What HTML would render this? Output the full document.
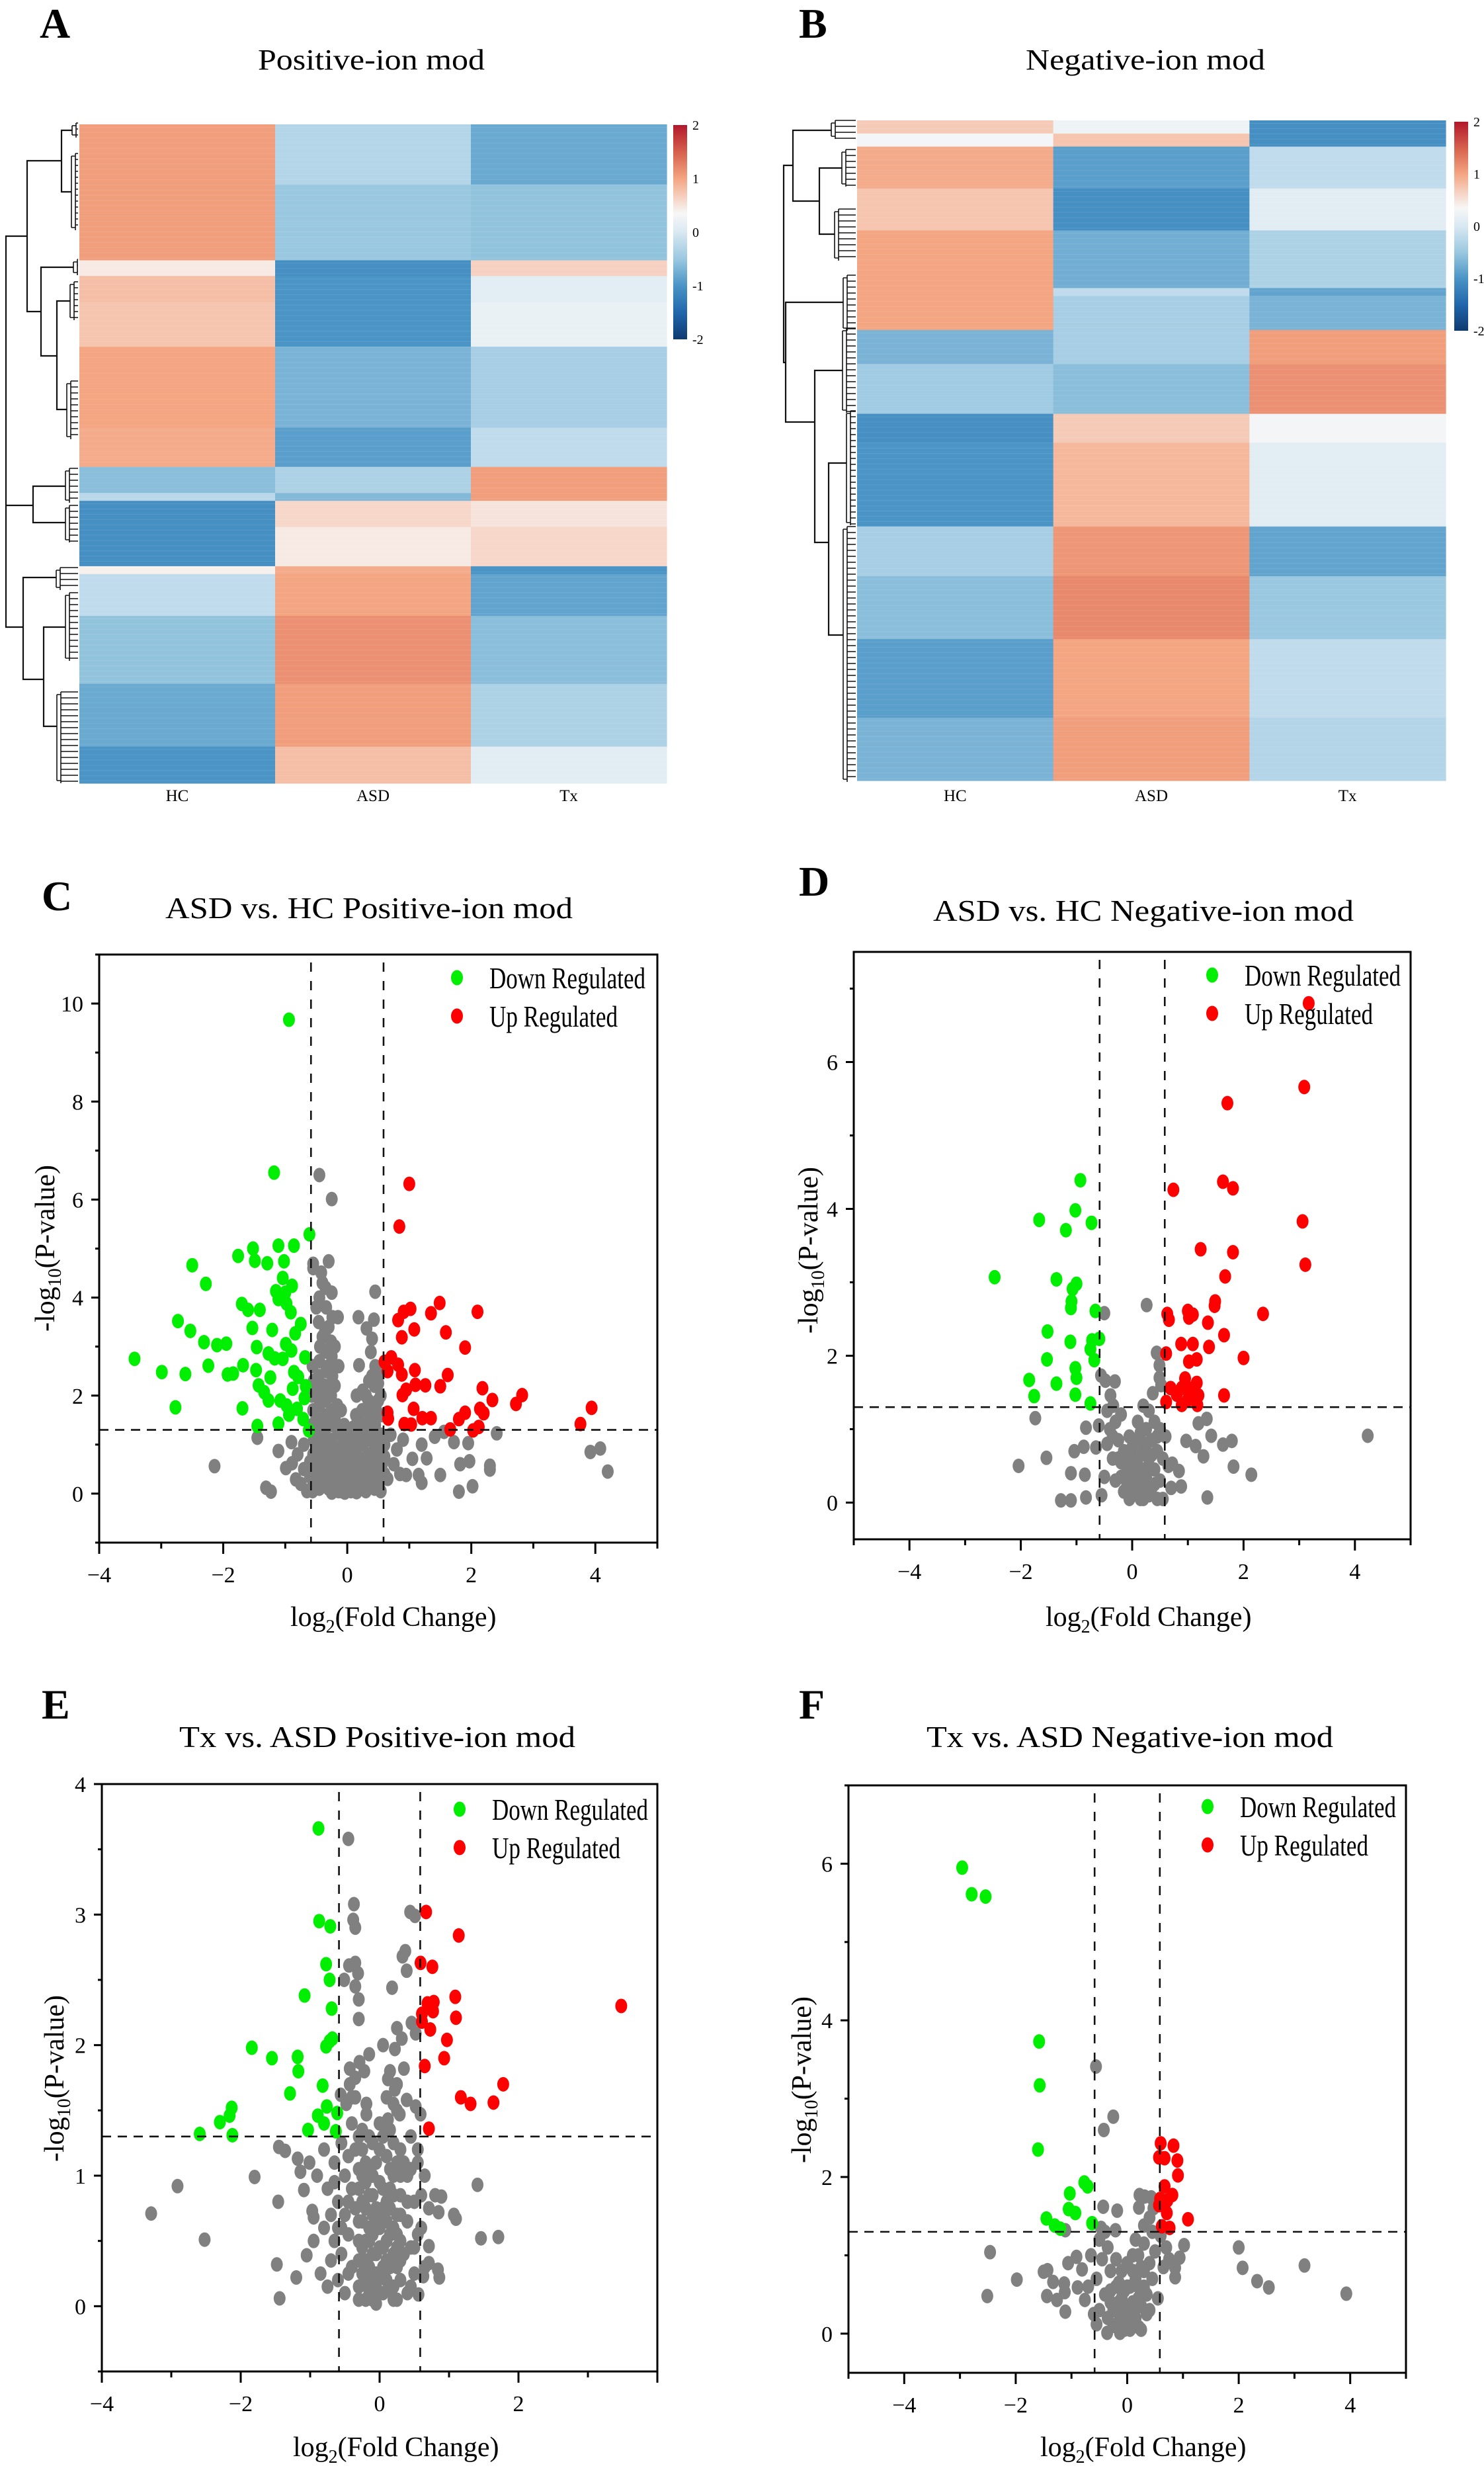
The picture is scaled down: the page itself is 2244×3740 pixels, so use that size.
<!DOCTYPE html>
<html><head><meta charset="utf-8"><title>Metabolomics heatmaps and volcano plots</title>
<style>
html,body{margin:0;padding:0;background:#fff;}
svg{display:block;font-family:"Liberation Serif",serif;}
svg text{font-family:"Liberation Serif",serif;}
</style></head>
<body>
<svg id="fig" xmlns="http://www.w3.org/2000/svg" width="2244" height="3740" viewBox="0 0 2244 3740">
<rect x="0" y="0" width="2244" height="3740" fill="#fff"/>
</svg>
<script>
// ---------------- Heatmap data ----------------
const heatColumns = ['HC', 'ASD', 'Tx'];
const colorbarTicks = [2, 1, 0, -1, -2];
const aRows = [23, 29, 6, 10, 17, 31, 15, 10, 3, 10, 15, 3, 16, 26, 24, 14];
const aHC  = [1.05, 1.05, 0.45, 0.8, 0.75, 1.0, 0.95, -0.6, -0.25, -1.05, -1.05, 0.4, -0.2, -0.55, -0.8, -1.0];
const aASD = [-0.3, -0.5, -1.05, -1.0, -1.0, -0.7, -0.9, -0.35, -0.65, 0.6, 0.45, 0.95, 1.0, 1.15, 1.05, 0.8];
const aTx  = [-0.8, -0.55, 0.65, 0.1, 0.2, -0.4, -0.2, 1.05, 1.05, 0.5, 0.6, -1.0, -0.85, -0.6, -0.35, 0.1];
const bRows = [5, 5, 16, 16, 22, 3, 13, 13, 19, 11, 32, 19, 24, 30, 24];
const bHC  = [0.7, 0.3, 0.95, 0.75, 1.0, 1.0, 1.0, -0.7, -0.45, -1.05, -1.0, -0.4, -0.6, -0.9, -0.7];
const bASD = [0.25, 0.75, -0.9, -1.05, -0.75, -0.2, -0.4, -0.4, -0.6, 0.7, 0.85, 1.1, 1.2, 1.0, 1.05];
const bTx  = [-1.05, -1.05, -0.2, 0.1, -0.35, -0.85, -0.7, 1.05, 1.15, 0.3, 0.1, -0.85, -0.5, -0.2, -0.3];

// ---------------- Volcano data ----------------
const cDown = [[-0.94,9.67],[-1.18,6.55],[-0.61,5.29],[-1.76,4.85],[-1.52,5.0],[-1.11,5.06],[-0.86,5.06],[-1.49,4.75],[-1.29,4.7],[-1.02,4.74],[-2.5,4.66],[-2.28,4.28],[-1.04,4.4],[-1.15,4.13],[-1.0,4.1],[-0.89,4.24],[-1.11,3.97],[-0.98,3.88],[-1.7,3.87],[-1.6,3.75],[-1.41,3.75],[-0.91,3.7],[-2.73,3.52],[-2.53,3.32],[-1.53,3.38],[-1.21,3.34],[-0.75,3.46],[-0.84,3.27],[-2.31,3.09],[-2.1,3.03],[-1.95,3.06],[-1.46,2.99],[-0.99,3.05],[-0.9,2.92],[-3.43,2.75],[-1.27,2.86],[-1.17,2.76],[-1.04,2.75],[-0.68,2.78],[-2.99,2.48],[-2.61,2.44],[-2.24,2.61],[-1.93,2.43],[-1.84,2.45],[-1.68,2.62],[-1.47,2.52],[-1.24,2.37],[-0.86,2.48],[-0.79,2.38],[-1.43,2.21],[-1.34,2.07],[-0.88,2.14],[-0.67,2.19],[-1.27,1.9],[-1.08,1.9],[-0.98,1.8],[-0.69,1.95],[-2.77,1.76],[-1.69,1.74],[-0.81,1.73],[-0.94,1.61],[-0.71,1.52],[-1.45,1.38],[-1.11,1.43],[-0.62,1.29]];
const cUp = [[1.0,6.32],[0.84,5.45],[1.49,3.89],[2.1,3.71],[1.35,3.68],[1.02,3.77],[0.91,3.71],[0.82,3.54],[1.08,3.35],[0.88,3.19],[1.59,3.29],[1.9,2.98],[0.71,2.78],[0.6,2.69],[0.82,2.63],[1.09,2.52],[0.65,2.5],[0.88,2.43],[1.62,2.42],[1.1,2.22],[0.95,2.12],[1.26,2.21],[0.89,2.01],[1.5,2.19],[2.18,2.15],[2.82,2.01],[2.34,1.91],[2.72,1.83],[3.94,1.75],[0.65,1.65],[1.07,1.73],[0.66,1.53],[1.9,1.65],[2.14,1.73],[2.2,1.64],[1.21,1.54],[1.35,1.54],[1.8,1.52],[0.92,1.42],[3.76,1.42],[2.12,1.36],[1.03,1.41],[1.66,1.31],[2.03,1.29]];
const cNs = [[-0.45,6.5],[-0.25,6.01],[-0.55,4.69],[-0.3,4.74],[-0.42,4.51],[0.45,4.12],[0.18,3.6],[0.43,3.55],[0.31,3.37],[0.4,3.16],[0.38,2.89],[0.19,2.62],[-1.45,1.14],[-2.14,0.56],[-1.31,0.12],[-1.23,0.04],[-1.11,0.87],[-0.99,0.52],[-0.83,0.29],[-0.89,0.62],[2.41,1.23],[1.95,1.03],[2.3,0.57],[2.3,0.49],[1.97,0.66],[1.82,0.6],[1.8,0.04],[2.02,0.15],[3.92,0.85],[4.08,0.92],[4.2,0.45],[1.2,1.0],[1.2,0.22],[0.95,0.38],[1.05,0.71],[1.28,0.72],[1.41,1.16],[1.56,1.26],[1.5,0.38],[1.72,1.05],[1.15,0.38],
[-0.55,4.6],[-0.56,2.6],[-0.54,2.3],[-0.57,2.0],[-0.55,1.7],[-0.56,1.4],[-0.54,1.1],[-0.55,0.8],[-0.57,0.5],[-0.55,0.2],[-0.56,0.05],
[-0.45,4.0],[-0.46,3.5],[-0.44,3.0],[-0.45,2.7],[-0.46,2.4],[-0.44,2.1],[-0.45,1.8],[-0.46,1.5],[-0.44,1.2],[-0.45,0.9],[-0.46,0.6],[-0.44,0.3],[-0.45,0.1],
[-0.35,4.2],[-0.34,3.8],[-0.36,3.3],[-0.35,2.9],[-0.34,2.5],[-0.36,2.2],[-0.35,1.9],[-0.34,1.6],[-0.36,1.3],[-0.35,1.0],[-0.34,0.7],[-0.36,0.4],[-0.35,0.15],
[-0.25,4.1],[-0.24,3.6],[-0.26,3.1],[-0.25,2.8],[-0.24,2.4],[-0.26,2.0],[-0.25,1.7],[-0.24,1.4],[-0.26,1.1],[-0.25,0.8],[-0.24,0.5],[-0.26,0.2],[-0.25,0.02],
[-0.15,3.6],[-0.14,2.6],[-0.16,1.8],[-0.15,1.3],[-0.14,0.9],[-0.16,0.6],[-0.15,0.3],[-0.14,0.05],
[-0.05,1.4],[-0.06,1.0],[-0.04,0.7],[-0.05,0.4],[-0.06,0.15],[-0.04,0.02],
[0.05,1.2],[0.06,0.9],[0.04,0.6],[0.05,0.3],[0.06,0.05],
[0.15,2.0],[0.14,1.6],[0.16,1.2],[0.15,0.8],[0.14,0.5],[0.16,0.2],[0.15,0.03],
[0.25,2.1],[0.24,1.7],[0.26,1.3],[0.25,1.0],[0.24,0.7],[0.26,0.4],[0.25,0.1],
[0.35,2.3],[0.34,1.9],[0.36,1.5],[0.35,1.1],[0.34,0.8],[0.36,0.5],[0.35,0.2],
[0.45,2.6],[0.44,2.2],[0.46,1.8],[0.45,1.4],[0.44,1.0],[0.46,0.7],[0.45,0.4],[0.44,0.1],
[0.55,2.5],[0.54,2.0],[0.56,1.6],[0.55,1.2],[0.54,0.9],[0.56,0.6],[0.55,0.3],[0.54,0.05],
[0.7,1.2],[0.8,0.9],[0.9,1.1],[0.75,0.6],[0.65,0.3],[0.85,0.4],[-0.7,1.0],[-0.8,0.8],[-0.7,0.5],[-0.75,0.2],[-0.9,1.05],[-0.65,0.05],
[-0.5,3.8],[-0.4,4.3],[-0.3,3.4],[-0.2,3.0],[-0.4,3.2],[-0.3,2.6],[-0.5,2.2],[-0.4,1.95],[-0.3,2.05],[-0.2,2.2],[-0.5,1.55],[-0.4,1.35],[-0.3,1.45],[-0.2,1.55],[-0.1,1.7],
[-0.5,0.95],[-0.4,0.75],[-0.3,0.85],[-0.2,0.95],[-0.1,1.2],[0.0,1.05],[0.1,1.35],[0.2,1.45],[0.3,1.7],[0.4,1.6],[0.5,1.9],[0.3,2.0],[0.4,2.4],[0.5,2.25],
[-0.5,0.45],[-0.4,0.45],[-0.3,0.55],[-0.2,0.65],[-0.1,0.85],[0.0,0.8],[0.1,0.95],[0.2,1.05],[0.3,1.25],[0.4,1.2],[0.5,1.05],
[-0.5,0.15],[-0.4,0.2],[-0.3,0.1],[-0.2,0.35],[-0.1,0.45],[0.0,0.5],[0.1,0.65],[0.2,0.55],[0.3,0.65],[0.4,0.8],[0.5,0.5],
[-0.1,0.05],[0.0,0.2],[0.1,0.1],[0.2,0.3],[0.3,0.05],[0.4,0.3],[0.5,0.15],[0.6,0.4],[0.6,0.75],[0.6,1.0],[-0.6,0.65],[-0.6,0.35]];

const dDown = [[-0.93,4.39],[-1.02,3.98],[-1.67,3.85],[-0.73,3.81],[-1.19,3.71],[-2.47,3.07],[-1.36,3.04],[-1.0,2.98],[-1.07,2.91],[-1.09,2.74],[-1.1,2.65],[-0.66,2.61],[-1.52,2.33],[-0.72,2.21],[-0.59,2.23],[-1.11,2.19],[-0.75,2.09],[-1.53,1.95],[-0.68,1.94],[-1.02,1.83],[-1.0,1.7],[-1.85,1.67],[-1.36,1.62],[-1.76,1.45],[-1.02,1.47],[-0.75,1.35]];
const dUp = [[3.17,6.8],[3.09,5.66],[1.71,5.44],[1.63,4.37],[0.74,4.26],[1.81,4.28],[3.06,3.83],[1.23,3.45],[1.81,3.41],[3.11,3.24],[1.67,3.08],[1.49,2.74],[1.48,2.68],[2.35,2.57],[0.63,2.57],[0.66,2.49],[1.0,2.61],[1.09,2.56],[1.02,2.52],[1.36,2.45],[1.65,2.28],[0.88,2.16],[1.09,2.16],[1.38,2.12],[0.61,2.03],[2.0,1.97],[1.16,1.95],[1.02,1.92],[0.95,1.69],[1.16,1.63],[0.69,1.56],[0.89,1.56],[1.06,1.55],[0.8,1.47],[1.19,1.46],[1.65,1.46],[0.61,1.37],[0.89,1.33],[1.17,1.33],[1.0,1.4]];
const dNs = [[-0.5,2.58],[0.26,2.69],[4.23,0.91],[-1.74,1.15],[-1.54,0.61],[-2.04,0.5],[-1.28,0.03],[-1.1,0.03],[-0.83,0.07],[-0.85,0.38],[-1.1,0.4],[-1.04,0.7],[-0.87,0.76],[-0.83,1.02],[2.14,0.38],[1.82,0.49],[1.79,0.84],[1.63,0.79],[1.42,0.91],[1.28,0.63],[1.35,0.07],[1.14,0.77],[1.34,1.14],[1.19,1.08],[-0.56,1.73],[-0.48,1.66],[-0.31,1.65],[0.44,2.04],[0.49,1.87],[0.49,1.7],[0.52,1.6],[0.37,1.49],[0.2,1.32],[-0.39,1.46],[-0.34,1.32],[0.97,0.84],[0.88,0.22],[0.84,0.43],[0.72,0.53],
[-0.45,1.25],[-0.4,1.0],[-0.45,0.8],[-0.35,0.6],[-0.5,0.35],[-0.3,1.1],[-0.25,0.85],[-0.2,0.55],[-0.3,0.3],[-0.15,0.7],[-0.1,0.4],[-0.15,0.15],[-0.05,0.05],[0.0,0.3],[0.05,0.6],[0.1,0.85],[0.1,0.2],[0.15,0.45],[0.2,0.7],[0.2,0.05],[0.25,1.0],[0.25,0.35],[0.3,0.6],[0.35,0.2],[0.35,0.85],[0.4,1.1],[0.4,0.45],[0.45,0.7],[0.5,0.3],[0.5,1.0],[0.55,0.05],[0.55,0.6],[0.6,0.9],[0.65,0.5],[0.7,0.2],[-0.6,1.05],[-0.65,0.75],[-0.55,0.1],[0.0,0.1],[0.1,1.1],[-0.2,1.2],[0.3,1.25],[0.15,0.95],[-0.05,0.9],[-0.1,0.6],[0.05,0.35],[0.25,0.15],[0.45,0.05],
[-0.1,0.2],[0.0,0.5],[0.05,0.15],[0.15,0.3],[0.2,0.45],[0.1,0.6],[0.3,0.45],[0.35,0.65],[0.0,0.75],[-0.05,0.35],[0.2,0.25],[0.4,0.25],[-0.2,0.35],[-0.25,0.6],[-0.35,0.9],[0.15,0.05],[0.3,0.1],[-0.05,0.55],[0.25,0.8],[0.45,0.9]];

const eDown = [[-0.88,3.66],[-0.87,2.95],[-0.71,2.91],[-0.77,2.62],[-0.72,2.5],[-1.08,2.38],[-0.69,2.28],[-0.68,2.05],[-0.72,2.03],[-0.77,1.99],[-1.84,1.98],[-1.55,1.9],[-1.18,1.91],[-1.17,1.8],[-0.82,1.69],[-1.29,1.63],[-2.13,1.52],[-2.16,1.46],[-0.76,1.53],[-0.89,1.46],[-0.61,1.48],[-0.8,1.4],[-2.3,1.41],[-1.03,1.35],[-0.63,1.34],[-2.59,1.32],[-2.12,1.31]];
const eUp = [[0.67,3.02],[1.14,2.84],[0.59,2.63],[0.76,2.6],[3.48,2.3],[1.09,2.37],[0.69,2.32],[0.78,2.33],[0.61,2.24],[0.77,2.26],[1.1,2.21],[0.61,2.18],[0.73,2.12],[0.97,2.04],[0.93,1.9],[0.65,1.84],[1.78,1.7],[1.17,1.6],[1.31,1.55],[1.64,1.56],[0.71,1.36]];
const eNs = [[-0.45,3.58],[-0.37,3.08],[-0.38,2.96],[-0.35,2.9],[0.44,3.02],[0.51,2.99],[0.37,2.72],[0.33,2.68],[-0.44,2.61],[-0.35,2.63],[-0.31,2.55],[-0.51,2.5],[0.18,2.44],[0.39,2.57],[-3.29,0.71],[-2.91,0.92],[-2.52,0.51],[-1.8,0.99],[-1.46,0.8],[-1.48,0.32],[-1.44,0.06],[-1.2,0.22],[-1.05,0.39],[-1.45,1.22],[-1.36,1.19],[-1.18,1.13],[-1.01,1.1],[-1.14,1.03],[-1.09,0.89],[-0.97,0.73],[-0.95,0.68],[1.41,0.93],[1.46,0.52],[1.71,0.53],[1.07,0.7],[1.1,0.67],[0.8,0.85],[0.89,0.84],[0.85,0.72],[0.71,0.75],[0.71,0.46],[0.71,0.33],[0.84,0.28],[0.86,0.22],[0.63,0.23],[0.56,0.09],[-0.22,1.8],[-0.15,1.93],[-0.29,1.87],[-0.43,1.82],[-0.43,1.7],[0.25,2.13],[0.32,2.05],[0.22,1.97],[0.46,2.17],[0.52,2.09],[0.35,1.82],[0.12,1.74],[0.22,1.66],[0.39,1.58],[0.52,1.53],[0.59,1.47],[0.29,1.47],[0.12,1.43],[-0.19,1.55],[-0.19,1.47],[-0.56,1.62],[-0.48,1.55],
[-0.8,1.2],[-0.75,0.9],[-0.8,0.6],[-0.7,0.35],[-0.75,0.15],[-0.65,1.1],[-0.6,0.8],[-0.65,0.5],[-0.6,0.2],[-0.55,1.25],[-0.5,1.0],[-0.5,0.7],[-0.55,0.4],[-0.5,0.1],[-0.45,1.15],[-0.4,0.9],[-0.45,0.55],[-0.4,0.3],[-0.4,1.4],[-0.35,1.6],[-0.35,1.75],[-0.3,2.2],[-0.3,2.35],[-0.35,2.45],[-0.35,1.2],[-0.35,0.75],[-0.3,0.5],[-0.3,0.15],[-0.25,1.0],[-0.25,0.65],[-0.2,0.35],[-0.2,0.05],[-0.15,0.85],[-0.15,1.3],[-0.15,0.5],[-0.1,0.2],[-0.1,0.7],[-0.05,0.4],[-0.05,0.02],[0.0,0.6],[0.0,0.25],[0.05,0.9],[0.05,0.1],[0.1,1.15],[0.1,0.5],[0.1,1.4],[0.1,1.6],[0.15,0.3],[0.15,0.75],[0.2,1.0],[0.2,1.25],[0.2,0.05],[0.25,0.55],[0.25,1.5],[0.25,1.7],[0.3,0.2],[0.3,0.85],[0.3,1.2],[0.35,0.4],[0.4,1.0],[0.4,0.65],[0.45,0.15],[0.45,1.3],[0.5,0.8],[0.5,0.45],[0.55,1.1],[0.6,0.6],[0.65,0.3],[0.55,1.2],[0.65,1.0],[-0.9,1.0],[-0.95,0.5],[-0.85,0.25],[-0.1,1.0],[0.0,1.2],[-0.2,0.95],[-0.25,1.35],[0.35,1.1],[0.15,1.05],[-0.05,0.75],[0.05,0.45],[-0.3,0.9],[-0.6,0.6],[0.25,0.3],
[-0.3,0.05],[-0.2,0.2],[-0.1,0.05],[0.0,0.1],[0.1,0.2],[0.2,0.15],[0.3,0.35],[-0.25,0.25],[-0.15,0.12],[-0.05,0.25],[0.05,0.3],[0.15,0.12],[0.25,0.05],
[-0.3,0.35],[-0.2,0.5],[-0.1,0.4],[0.0,0.45],[0.1,0.35],[0.2,0.4],[0.3,0.5],[-0.25,0.45],[-0.15,0.3],[-0.05,0.15],[0.05,0.22],[0.15,0.55],[0.25,0.45],
[-0.3,0.65],[-0.2,0.75],[-0.1,0.55],[0.0,0.7],[0.1,0.65],[0.2,0.6],[0.3,0.7],[-0.25,0.8],[-0.15,0.6],[-0.05,0.6],[0.05,0.75],[0.15,0.9],[0.25,0.7],
[-0.3,1.05],[-0.2,1.1],[-0.1,0.85],[0.0,0.95],[0.1,0.8],[0.2,0.85],[0.3,1.0],[-0.25,1.2],[-0.15,1.05],[-0.05,1.1],[0.05,1.3],[0.15,1.35],[0.25,1.1],
[-0.45,0.25],[-0.55,0.6],[-0.45,0.8],[-0.65,0.95],[0.4,0.1],[0.45,0.45],[0.4,0.8],[0.45,1.05],[-0.7,0.7],[0.5,0.25],[0.55,0.55],[0.6,0.85],[-0.1,1.25],[0.0,1.4],[0.2,1.55],[-0.3,1.3],[-0.4,1.6],[0.15,1.8],[0.05,2.0]];

const fDown = [[-2.96,5.95],[-2.79,5.61],[-2.54,5.58],[-1.58,3.73],[-1.57,3.17],[-1.6,2.35],[-0.77,1.93],[-0.71,1.88],[-1.03,1.79],[-1.05,1.59],[-0.93,1.54],[-1.45,1.47],[-0.63,1.41],[-1.3,1.38],[-1.2,1.34]];
const fUp = [[0.6,2.43],[0.83,2.4],[0.57,2.25],[0.67,2.24],[0.9,2.21],[0.91,2.02],[0.67,1.88],[0.81,1.77],[0.72,1.7],[0.59,1.72],[0.57,1.64],[0.71,1.54],[1.09,1.46],[0.62,1.37],[0.76,1.35]];
const fNs = [[-0.56,3.41],[-0.25,2.77],[-0.42,2.6],[-0.43,1.62],[-0.18,1.57],[-0.47,1.35],[-0.21,1.32],[-1.11,1.32],[-2.46,1.04],[-1.98,0.69],[-2.51,0.48],[-1.5,0.79],[-1.43,0.81],[-1.33,0.66],[-1.44,0.48],[-1.26,0.43],[-1.13,0.64],[-1.12,0.53],[-1.11,0.28],[-1.06,0.9],[-0.91,0.98],[-0.81,0.82],[-0.89,0.59],[-0.76,0.43],[2.0,1.1],[2.07,0.84],[2.33,0.67],[2.54,0.59],[3.18,0.87],[3.93,0.51],[1.02,1.13],[0.94,0.97],[0.86,0.84],[0.86,0.72],[0.22,1.77],[0.31,1.75],[0.43,1.74],[0.21,1.61],[0.47,1.6],[0.4,1.48],[0.3,1.38],[-0.55,0.12],[-0.36,0.01],[-0.13,0.01],[0.21,0.08],
[-0.5,1.2],[-0.45,0.95],[-0.55,0.7],[-0.4,0.5],[-0.5,0.3],[-0.35,1.1],[-0.3,0.8],[-0.3,0.55],[-0.25,0.3],[-0.25,0.1],[-0.2,0.95],[-0.15,0.65],[-0.15,0.4],[-0.1,0.2],[-0.05,0.55],[-0.05,0.05],[0.0,0.35],[0.05,0.6],[0.05,0.15],[0.1,0.8],[0.1,0.4],[0.15,0.2],[0.2,1.0],[0.2,0.6],[0.25,0.35],[0.25,0.05],[0.3,0.8],[0.3,1.15],[0.35,0.5],[0.4,0.9],[0.45,0.7],[0.5,1.05],[0.55,0.45],[0.6,1.25],[0.65,0.85],[0.7,1.1],[0.75,0.95],[-0.65,1.0],[-0.7,0.6],[-0.6,0.25],[-0.35,0.2],[0.4,0.3],[-0.2,0.3],[0.15,1.2],[-0.4,1.3],[0.45,1.3],
[-0.1,0.45],[0.0,0.6],[0.1,0.25],[0.2,0.45],[-0.2,0.6],[-0.1,0.8],[0.0,0.9],[0.1,1.0],[0.3,0.6],[-0.3,0.4],[0.35,0.25],[0.15,0.7],[-0.15,0.15],[0.05,0.05],[0.25,0.85],[-0.05,0.3]];

const fcCutoff = [-0.585, 0.585];
const pCutoff = [1.3];
const legendLabels = ['Down Regulated', 'Up Regulated'];

// ---------------- rendering ----------------
const NS = 'http://www.w3.org/2000/svg';
const svg = document.getElementById('fig');
const FONT = '"Liberation Serif", serif';
function el(tag, attrs, parent) {
  const e = document.createElementNS(NS, tag);
  for (const k in attrs) e.setAttribute(k, attrs[k]);
  (parent || svg).appendChild(e);
  return e;
}
const stops = [[-2,[13,58,112]],[-1.5,[33,102,172]],[-1,[74,148,198]],[-0.5,[154,200,224]],[0,[217,232,242]],[0.35,[247,247,247]],[1,[244,165,130]],[1.5,[214,96,77]],[2,[178,24,43]]];
function colorOf(v) {
  v = Math.max(-2, Math.min(2, v));
  for (let i = 0; i < stops.length - 1; i++) {
    const a = stops[i], b = stops[i + 1];
    if (v >= a[0] && v <= b[0]) {
      const t = (v - a[0]) / (b[0] - a[0]);
      const c = a[1].map((x, j) => Math.round(x + (b[1][j] - x) * t));
      return 'rgb(' + c.join(',') + ')';
    }
  }
  return '#fff';
}
function txt(parent, x, y, s, size, opts) {
  const t = el('text', Object.assign({x: x, y: y, 'font-size': size, fill: '#000', 'font-family': FONT}, opts || {}), parent);
  t.textContent = s;
  return t;
}

function heatmap(cfg) {
  const g = el('g', {});
  
  
  const L = txt(g, cfg.letterX, 57, cfg.letter, 64, {'font-weight': 'bold'});
  
  
  const T = txt(g, cfg.titleX, 105, cfg.title, 44, {textLength: cfg.titleW, lengthAdjust: 'spacingAndGlyphs'});
  
  
  const total = cfg.rows.reduce((a, b) => a + b, 0);
  const rowH = (cfg.y1 - cfg.y0) / total;
  const colW = (cfg.x1 - cfg.x0) / heatColumns.length;
  const vals = [cfg.hc, cfg.asd, cfg.tx];
  let r0 = 0;
  cfg.rows.forEach((n, i) => {
    for (let c = 0; c < 3; c++) {
      const cell = el('rect', {x: cfg.x0 + c * colW, y: cfg.y0 + r0 * rowH, width: colW + 0.6, height: n * rowH + 0.6, fill: colorOf(vals[c][i])}, g);
      
      
    }
    r0 += n;
  });
  for (let k = 1; k < total; k += 2) {
    const s = el('rect', {x: cfg.x0, y: cfg.y0 + k * rowH, width: cfg.x1 - cfg.x0, height: 1, fill: '#fff', opacity: 0.1}, g);
    
    
  }
  heatColumns.forEach((c, i) => {
    const t = txt(g, cfg.x0 + (i + 0.5) * colW, 1211, c, 25, {'text-anchor': 'middle'});
    
    
  });
  const gid = 'cb' + cfg.letter;
  const defs = el('defs', {}, g);
  const lg = el('linearGradient', {id: gid, x1: 0, y1: 0, x2: 0, y2: 1}, defs);
  for (let i = stops.length - 1; i >= 0; i--) {
    el('stop', {offset: ((2 - stops[i][0]) / 4 * 100) + '%', 'stop-color': colorOf(stops[i][0])}, lg);
  }
  const cb = el('rect', {x: cfg.cbX, y: cfg.cbY0, width: 21, height: cfg.cbY1 - cfg.cbY0, fill: 'url(#' + gid + ')'}, g);
  
  
  colorbarTicks.forEach(v => {
    const y = cfg.cbY0 + (2 - v) / 4 * (cfg.cbY1 - cfg.cbY0);
    const t = txt(g, cfg.cbX + 29, y + 7, String(v), 20);
    
    
  });
  const dg = el('g', {stroke: '#111', 'stroke-width': 2.2, fill: 'none'}, g);
  
  
  cfg.tree.forEach(n => {
    const [x, y1, y2, xa, xb] = n;
    const p = el('path', {d: 'M' + xa + ' ' + y1 + 'H' + x + 'V' + y2 + 'H' + xb}, dg);
    
    
  });
  cfg.leaves.forEach(n => {
    const [x, y1, y2] = n;
    let d = 'M' + x + ' ' + y1 + 'V' + y2 + 'M' + x + ' ' + y1 + 'H' + (x + 6) + 'M' + x + ' ' + y2 + 'H' + (x + 6);
    d += 'M' + (x + 6) + ' ' + (y1 - 4) + 'V' + (y2 + 4);
    for (let y = y1 - 4; y <= y2 + 4.1; y += 9) d += 'M' + (x + 6) + ' ' + y + 'H' + (cfg.x0 - 2);
    const p = el('path', {d: d, 'stroke-width': 1.6}, dg);
    
    
  });
}

heatmap({name: 'heatmap-positive', letter: 'A', letterX: 60, title: 'Positive-ion mod', titleX: 390, titleW: 343,
  x0: 120, x1: 1008, y0: 188, y1: 1184, rows: aRows, hc: aHC, asd: aASD, tx: aTx, cbX: 1018, cbY0: 189, cbY1: 513,
  tree: [[9,357,948,41,35],[9,764,764,50,50],[41,243,471,93,62],[93,197,290,109,108],[62,404,538,111,86],[86,455,619,106,101],[50,735,790,99,99],[35,873,1027,85,66],[66,948,1098,99,86]],
  leaves: [[109,190,204],[108,236,344],[111,396,412],[106,430,480],[101,580,660],[99,712,756],[99,768,816],[85,862,888],[99,900,995],[86,1050,1180]]});
heatmap({name: 'heatmap-negative', letter: 'B', letterX: 1208, title: 'Negative-ion mod', titleX: 1551, titleW: 362,
  x0: 1296, x1: 2186, y0: 182, y1: 1180, rows: bRows, hc: bHC, asd: bASD, tx: bTx, cbX: 2199, cbY0: 184, cbY1: 500,
  tree: [[1185,250,548,1199,1188],[1199,197,304,1257,1239],[1239,254,354,1273,1262],[1188,457,638,1275,1232],[1232,560,820,1274,1253],[1253,700,960,1280,1275]],
  leaves: [[1257,186,206],[1273,230,278],[1262,320,390],[1275,420,496],[1274,500,620],[1280,625,790],[1275,800,1178]]});

function volcano(cfg) {
  const g = el('g', {});
  
  
  const sx = v => cfg.x0 + (v - cfg.xmin) / (cfg.xmax - cfg.xmin) * (cfg.x1 - cfg.x0);
  const sy = v => cfg.y1 - (v - cfg.ymin) / (cfg.ymax - cfg.ymin) * (cfg.y1 - cfg.y0);
  const L = txt(g, cfg.letterX, cfg.letterY, cfg.letter, 64, {'font-weight': 'bold'});
  
  
  const T = txt(g, cfg.titleX, cfg.titleY, cfg.title, 46, {textLength: cfg.titleW, lengthAdjust: 'spacingAndGlyphs', 'xml:space': 'preserve'});
  
  
  const series = [[cfg.ns, '#808080', 'point-not-significant'], [cfg.down, '#00ee00', 'point-down-regulated'], [cfg.up, '#ff0000', 'point-up-regulated']];
  series.forEach(s => {
    s[0].forEach(p => {
      const c = el('ellipse', {cx: sx(p[0]), cy: sy(p[1]), rx: 9, ry: 11, fill: s[1]}, g);
      
      
    });
  });
  fcCutoff.forEach(v => {
    const l = el('line', {x1: sx(v), x2: sx(v), y1: cfg.y0 + 12, y2: cfg.y1, stroke: '#111', 'stroke-width': 2.6, 'stroke-dasharray': '14 14'}, g);
    
    
  });
  pCutoff.forEach(v => {
    const l = el('line', {x1: cfg.x0, x2: cfg.x1, y1: sy(v), y2: sy(v), stroke: '#111', 'stroke-width': 2.6, 'stroke-dasharray': '14 10'}, g);
    
    
  });
  const fr = el('rect', {x: cfg.x0, y: cfg.y0, width: cfg.x1 - cfg.x0, height: cfg.y1 - cfg.y0, fill: 'none', stroke: '#000', 'stroke-width': 3}, g);
  
  
  for (let v = Math.ceil(cfg.xmin); v <= cfg.xmax + 1e-9; v += 1) {
    const major = v % 2 === 0;
    const tk = el('line', {x1: sx(v), x2: sx(v), y1: cfg.y1, y2: cfg.y1 + (major ? 17 : 9), stroke: '#000', 'stroke-width': 3}, g);
    
    
    if (major && v < cfg.xmax) {
      const t = txt(g, sx(v), cfg.y1 + 60, v < 0 ? '\u2212' + Math.abs(v) : String(v), 34, {'text-anchor': 'middle'});
      
      
    }
  }
  for (let v = Math.ceil(cfg.ymin / cfg.yMinor) * cfg.yMinor; v <= cfg.ymax + 1e-9; v += cfg.yMinor) {
    const vv = Math.round(v * 100) / 100;
    const major = Math.abs(vv / cfg.yMajor - Math.round(vv / cfg.yMajor)) < 1e-6;
    const tk = el('line', {x1: cfg.x0, x2: cfg.x0 - (major ? 12 : 6), y1: sy(vv), y2: sy(vv), stroke: '#000', 'stroke-width': 3}, g);
    
    
    if (major) {
      const t = txt(g, cfg.x0 - 24, sy(vv) + 12, String(vv), 34, {'text-anchor': 'end'});
      
      
    }
  }
  const xl = el('text', {x: cfg.xlabX, y: cfg.xlabY, 'font-size': 42, fill: '#000', 'font-family': FONT}, g);
  
  
  xl.innerHTML = 'log<tspan font-size="28" dy="10">2</tspan><tspan dy="-10">(Fold Change)</tspan>';
  const yl = el('text', {x: 0, y: 0, 'font-size': 42, fill: '#000', 'font-family': FONT, 'text-anchor': 'middle', transform: 'translate(' + cfg.ylabX + ',' + cfg.ylabY + ') rotate(-90)'}, g);
  
  
  yl.innerHTML = '-log<tspan font-size="28" dy="10">10</tspan><tspan dy="-10">(P-value)</tspan>';
  const cols = ['#00ee00', '#ff0000'];
  legendLabels.forEach((s, i) => {
    const ly = cfg.legY + i * 58;
    const d = el('ellipse', {cx: cfg.legX, cy: ly, rx: 9, ry: 11.5, fill: cols[i]}, g);
    
    
    const t = txt(g, cfg.legX + 49, ly + 16, s, 46, {textLength: i === 0 ? 236 : 194, lengthAdjust: 'spacingAndGlyphs'});
    
    
  });
}

volcano({name: 'volcano-asd-hc-positive', letter: 'C', letterX: 63, letterY: 1376, title: 'ASD vs. HC  Positive-ion mod', titleX: 250, titleY: 1388, titleW: 616,
  x0: 150, x1: 994, y0: 1443, y1: 2332, xmin: -4, xmax: 5, ymin: -1, ymax: 11, yMajor: 2, yMinor: 1,
  down: cDown, up: cUp, ns: cNs, xlabX: 439, xlabY: 2458, ylabX: 82, ylabY: 1887, legX: 691, legY: 1478});
volcano({name: 'volcano-asd-hc-negative', letter: 'D', letterX: 1208, letterY: 1354, title: 'ASD vs. HC  Negative-ion mod', titleX: 1411, titleY: 1392, titleW: 636,
  x0: 1291, x1: 2133, y0: 1439, y1: 2327, xmin: -5, xmax: 5, ymin: -0.5, ymax: 7.5, yMajor: 2, yMinor: 1,
  down: dDown, up: dUp, ns: dNs, xlabX: 1581, xlabY: 2458, ylabX: 1236, ylabY: 1890, legX: 1833, legY: 1474});
volcano({name: 'volcano-tx-asd-positive', letter: 'E', letterX: 63, letterY: 2598, title: 'Tx vs. ASD  Positive-ion mod', titleX: 271, titleY: 2641, titleW: 599,
  x0: 154, x1: 994, y0: 2697, y1: 3585, xmin: -4, xmax: 4, ymin: -0.5, ymax: 4, yMajor: 1, yMinor: 0.5,
  down: eDown, up: eUp, ns: eNs, xlabX: 443, xlabY: 3713, ylabX: 96, ylabY: 3142, legX: 695, legY: 2735});
volcano({name: 'volcano-tx-asd-negative', letter: 'F', letterX: 1208, letterY: 2598, title: 'Tx vs. ASD  Negative-ion mod', titleX: 1401, titleY: 2641, titleW: 615,
  x0: 1283, x1: 2126, y0: 2699, y1: 3587, xmin: -5, xmax: 5, ymin: -0.5, ymax: 7, yMajor: 2, yMinor: 1,
  down: fDown, up: fUp, ns: fNs, xlabX: 1573, xlabY: 3713, ylabX: 1226, ylabY: 3144, legX: 1826, legY: 2731});
</script>
</body></html>
